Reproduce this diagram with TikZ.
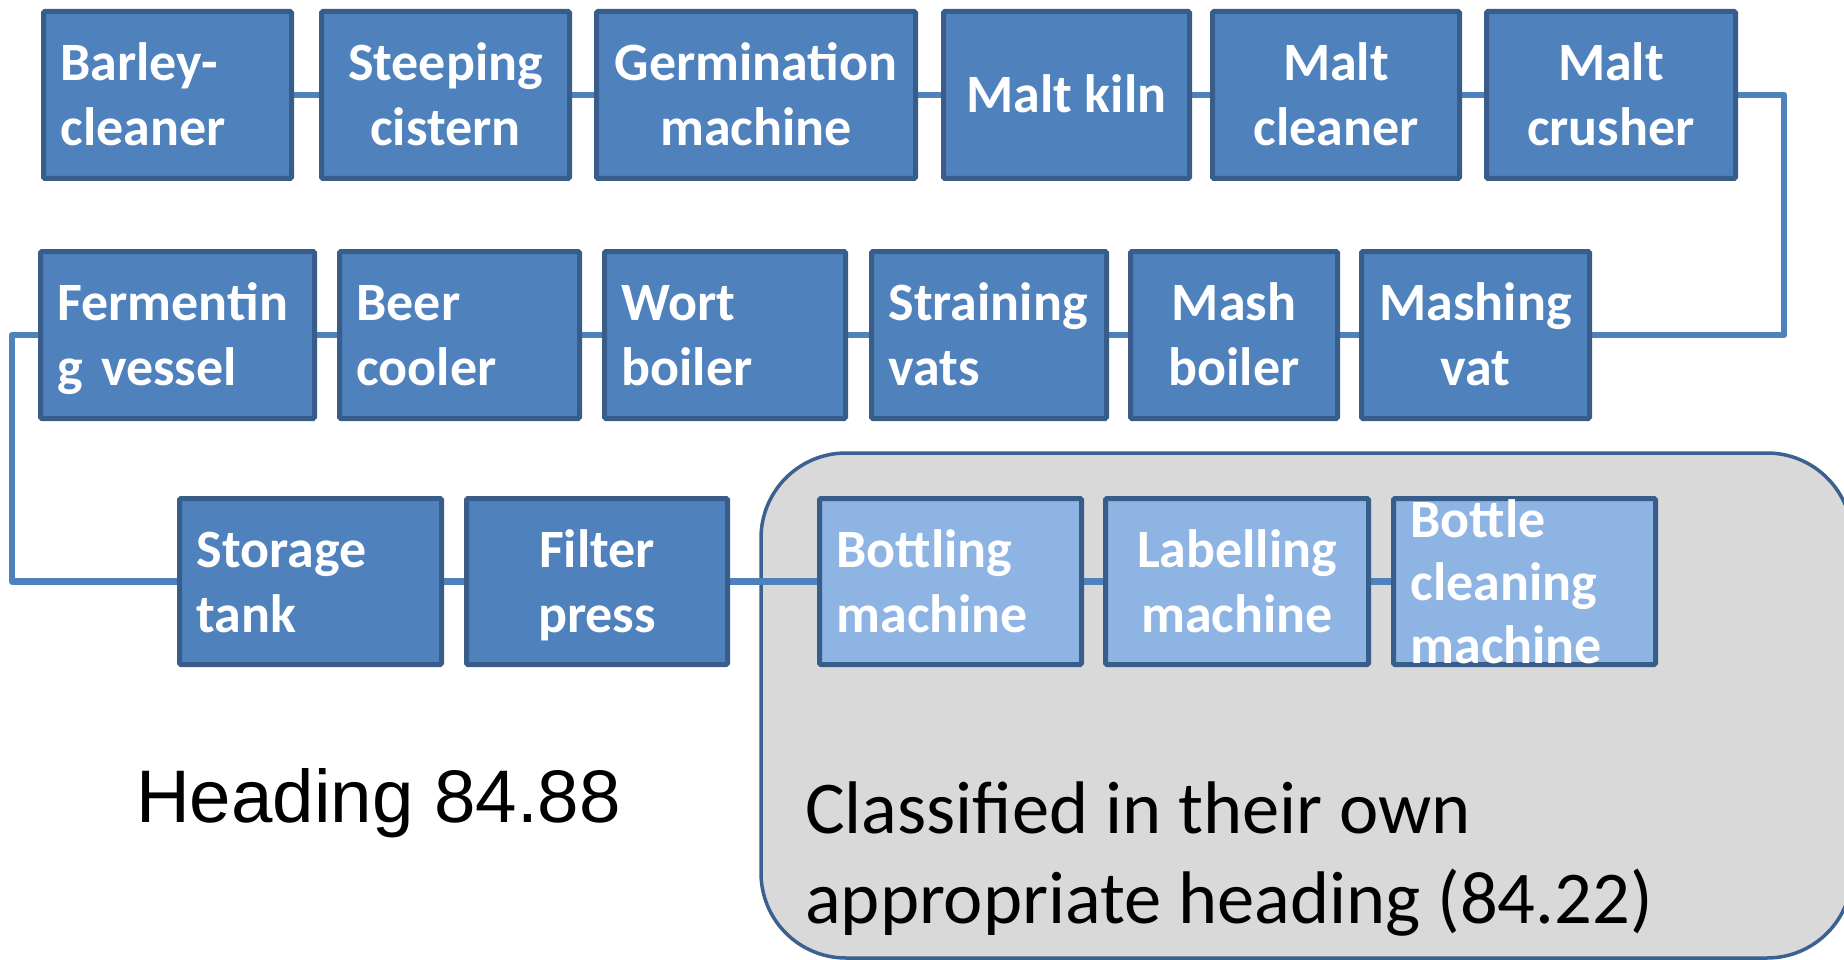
\documentclass[tikz,border=0pt]{standalone}
\usepackage{fontspec}
\newfontfamily\carlito{Carlito}
\newfontfamily\libsans{Liberation Sans}
\definecolor{boxfill}{HTML}{4F81BD}
\definecolor{boxline}{HTML}{385D8A}
\definecolor{lightfill}{HTML}{8EB4E3}
\definecolor{grayfill}{HTML}{D9D9D9}
\definecolor{grayline}{HTML}{3B6191}
\definecolor{linkcol}{HTML}{4F81BD}
\pgfdeclarelayer{back}
\pgfdeclarelayer{links}
\pgfsetlayers{back,links,main}
\newcommand\tstr{\rule[-14pt]{0pt}{64pt}}
\begin{document}
\begin{tikzpicture}[x=1pt,y=-1pt,
  proc/.style={rectangle, draw=boxline, line width=5pt, fill=boxfill, text=white,
    font=\carlito\bfseries\fontsize{54pt}{63pt}\selectfont,
    inner xsep=17pt, inner ysep=0pt, rounded corners=1.5pt},
  lightproc/.style={proc, fill=lightfill},
  rowa/.style={minimum height=167pt},
  rowc/.style={minimum height=166pt},
  ctr/.style={align=center},
  lft/.style={text width=#1, execute at begin node={\raggedright}},
  link/.style={draw=linkcol, line width=6.5pt, line join=round},
  frame/.style={draw=grayline, line width=3.5pt, fill=grayfill, rounded corners=85pt}]
\useasboundingbox (0,0) rectangle (1844,960);

% row 1
\node[proc, rowa, lft=214pt, minimum width=248pt] (barley) at (167.5,95) {\tstr Barley-\\cleaner\tstr};
\node[proc, rowa, ctr, minimum width=248pt] (steep) at (445.5,95) {\tstr Steeping\\cistern\tstr};
\node[proc, rowa, ctr, minimum width=319pt] (germ) at (756,95) {\tstr Germination\\machine\tstr};
\node[proc, rowa, ctr, minimum width=246pt] (kiln) at (1066.5,95) {\tstr Malt kiln\tstr};
\node[proc, rowa, ctr, minimum width=247pt] (mclean) at (1336,95) {\tstr Malt\\cleaner\tstr};
\node[proc, rowa, ctr, minimum width=249pt] (crusher) at (1611,95) {\tstr Malt\\crusher\tstr};

% row 2
\node[proc, rowa, lft=240pt, minimum width=274pt] (ferm) at (177.5,335) {\tstr Fermentin\\g vessel\tstr};
\node[proc, rowa, lft=206pt, minimum width=240pt] (beer) at (459.5,335) {\tstr Beer\\cooler\tstr};
\node[proc, rowa, lft=207pt, minimum width=241pt] (wort) at (725,335) {\tstr Wort\\boiler\tstr};
\node[proc, rowa, lft=201pt, minimum width=235pt] (strain) at (989,335) {\tstr Straining\\vats\tstr};
\node[proc, rowa, ctr, minimum width=207pt] (mboil) at (1234,335) {\tstr Mash\\boiler\tstr};
\node[proc, rowa, ctr, minimum width=228pt] (mvat) at (1475.5,335) {\tstr Mashing\\vat\tstr};

% row 3
\node[proc, rowc, lft=228pt, minimum width=262pt] (storage) at (310.5,581.5) {\tstr Storage\\tank\tstr};
\node[proc, rowc, ctr, minimum width=261pt] (filter) at (597,581.5) {\tstr Filter\\press\tstr};
\node[lightproc, rowc, lft=228pt, minimum width=262pt] (bottling) at (950.5,581.5) {\tstr Bottling\\machine\tstr};
\node[lightproc, rowc, ctr, minimum width=263pt] (label) at (1237,581.5) {\tstr Labelling\\machine\tstr};
\node[lightproc, rowc, minimum width=262pt] (bclean) at (1524.5,581.5)
  {\smash{\raisebox{44pt}{\begin{tabular}[t]{@{}p{228pt}@{}}Bottle\\cleaning\\machine\end{tabular}}}};

% texts
\node[anchor=base west, inner sep=0pt, font=\libsans\fontsize{74.5pt}{88pt}\selectfont] (heading) at (136,822) {Heading 84.88};
\node[anchor=north west, align=left, inner sep=0pt, font=\carlito\fontsize{74.5pt}{90pt}\selectfont] (note) at (805,773)
  {\rule{0pt}{60pt}Classified in their own\\appropriate heading (84.22)};

\begin{pgfonlayer}{back}
  \draw[frame] (761,453) rectangle (1852,958);
\end{pgfonlayer}

\coordinate (rt) at (1784,215);
\coordinate (lt) at (12,458);
\begin{pgfonlayer}{links}
  \draw[link] (barley) -- (steep) -- (germ) -- (kiln) -- (mclean) -- (crusher);
  \draw[link] (crusher.east) -| (rt) |- (mvat.east);
  \draw[link] (mvat) -- (mboil) -- (strain) -- (wort) -- (beer) -- (ferm);
  \draw[link] (ferm.west) -| (lt) |- (storage.west);
  \draw[link] (storage) -- (filter) -- (bottling) -- (label) -- (bclean);
\end{pgfonlayer}
\end{tikzpicture}
\end{document}
